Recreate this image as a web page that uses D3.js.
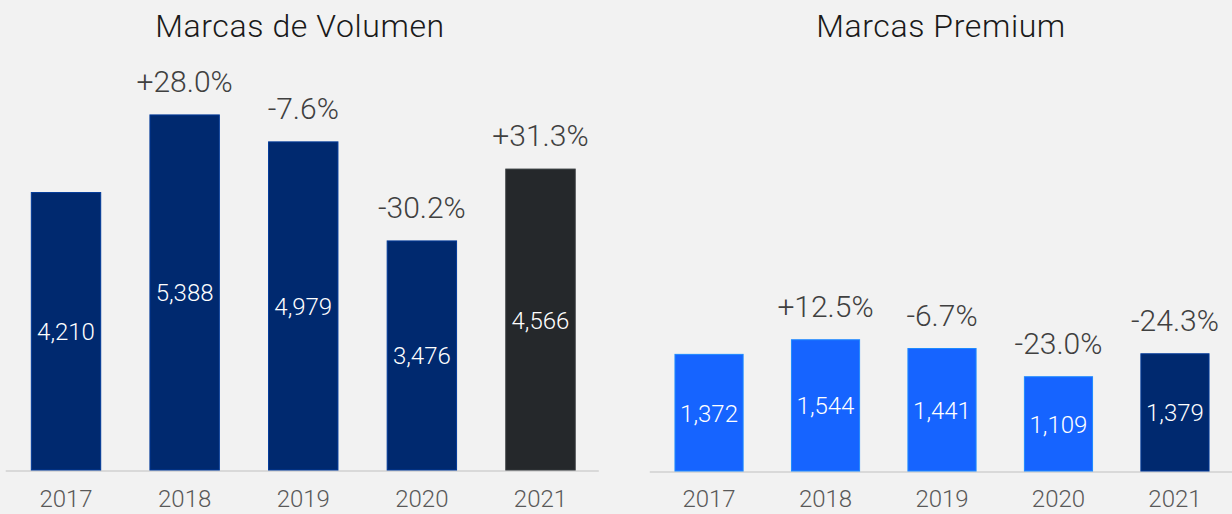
<!DOCTYPE html>
<html>
<head>
<meta charset="utf-8">
<script src="https://cdn.jsdelivr.net/npm/d3@7"></script>
<style>
  body { margin: 0; background: #f2f2f2; }
  svg { display: block; font-family: Roboto, "Open Sans", sans-serif; }
</style>
</head>
<body>
<div id="chart"></div>
<script>
const width = 1232;
const height = 514;

const years = ["2017", "2018", "2019", "2020", "2021"];
const volumeValues = [4210, 5388, 4979, 3476, 4566];
const volumeChange = ["", "+28.0%", "-7.6%", "-30.2%", "+31.3%"];
const premiumValues = [1372, 1544, 1441, 1109, 1379];
const premiumChange = ["", "+12.5%", "-6.7%", "-23.0%", "-24.3%"];

const navy = "#00296f";
const darkGray = "#25282b";
const brightBlue = "#1664ff";

const svg = d3.select("#chart")
    .append("svg")
    .attr("width", width)
    .attr("height", height);

svg.append("rect")
    .attr("width", width)
    .attr("height", height)
    .attr("fill", "#f2f2f2");

function drawPanel(opts) {
    const g = svg.append("g");

    const x = d3.scaleBand()
        .domain(years)
        .range(opts.xRange)
        .paddingInner(0.415)
        .paddingOuter(0.2075);

    const y = d3.scaleLinear()
        .domain(opts.yDomain)
        .range([opts.baseline, opts.yTop]);

    const data = years.map((yr, i) => ({
        year: yr,
        value: opts.values[i],
        change: opts.changes[i],
        color: i === years.length - 1 ? opts.lastColor : opts.color
    }));

    // title
    g.append("text")
        .attr("x", opts.titleX)
        .attr("y", 37)
        .attr("text-anchor", "middle")
        .attr("font-size", 32)
        .attr("font-weight", 300)
        .attr("letter-spacing", 0.6)
        .attr("fill", "#1a1a1a")
        .text(opts.title);

    // baseline
    g.append("line")
        .attr("x1", opts.xRange[0] - 1)
        .attr("x2", opts.xRange[1] - 1)
        .attr("y1", opts.baseline + 1)
        .attr("y2", opts.baseline + 1)
        .attr("stroke", "#d9d9d9")
        .attr("stroke-width", 2);

    g.selectAll("rect.bar")
        .data(data)
        .join("rect")
        .attr("class", "bar")
        .attr("x", d => x(d.year))
        .attr("y", d => y(d.value))
        .attr("width", x.bandwidth())
        .attr("height", d => y(0) - y(d.value))
        .attr("fill", d => d.color)
        .attr("stroke", d => d3.color(d.color).brighter(0.9))
        .attr("stroke-width", 1);

    // value labels, centred in bar
    g.selectAll("text.val")
        .data(data)
        .join("text")
        .attr("class", "val")
        .attr("x", d => x(d.year) + x.bandwidth() / 2)
        .attr("y", d => (y(d.value) + y(0)) / 2 + 9)
        .attr("text-anchor", "middle")
        .attr("font-size", 24)
        .attr("font-weight", 300)
        .attr("fill", "#ffffff")
        .text(d => d3.format(",")(d.value));

    // change labels above bar
    g.selectAll("text.chg")
        .data(data.filter(d => d.change))
        .join("text")
        .attr("class", "chg")
        .attr("x", d => x(d.year) + x.bandwidth() / 2)
        .attr("y", d => y(d.value) - 23)
        .attr("text-anchor", "middle")
        .attr("font-size", 30)
        .attr("font-weight", 300)
        .attr("fill", "#404040")
        .text(d => d.change);

    // year axis
    const axis = g.append("g")
        .attr("transform", `translate(0,${opts.baseline})`)
        .call(d3.axisBottom(x).tickSize(0).tickPadding(opts.baseline > 470 ? 19 : 20));
    axis.select(".domain").remove();
    axis.selectAll("text")
        .attr("font-size", 24)
        .attr("font-weight", 300)
        .attr("font-family", "Roboto, sans-serif")
        .attr("fill", "#595959");
}

drawPanel({
    title: "Marcas de Volumen",
    titleX: 300,
    xRange: [6.7, 599.8],
    baseline: 470,
    yDomain: [0, 7000],
    yTop: 8.7,
    values: volumeValues,
    changes: volumeChange,
    color: navy,
    lastColor: darkGray
});

drawPanel({
    title: "Marcas Premium",
    titleX: 941,
    xRange: [650.8, 1233.2],
    baseline: 471,
    yDomain: [0, 5400],
    yTop: 12,
    values: premiumValues,
    changes: premiumChange,
    color: brightBlue,
    lastColor: navy
});
</script>
</body>
</html>
